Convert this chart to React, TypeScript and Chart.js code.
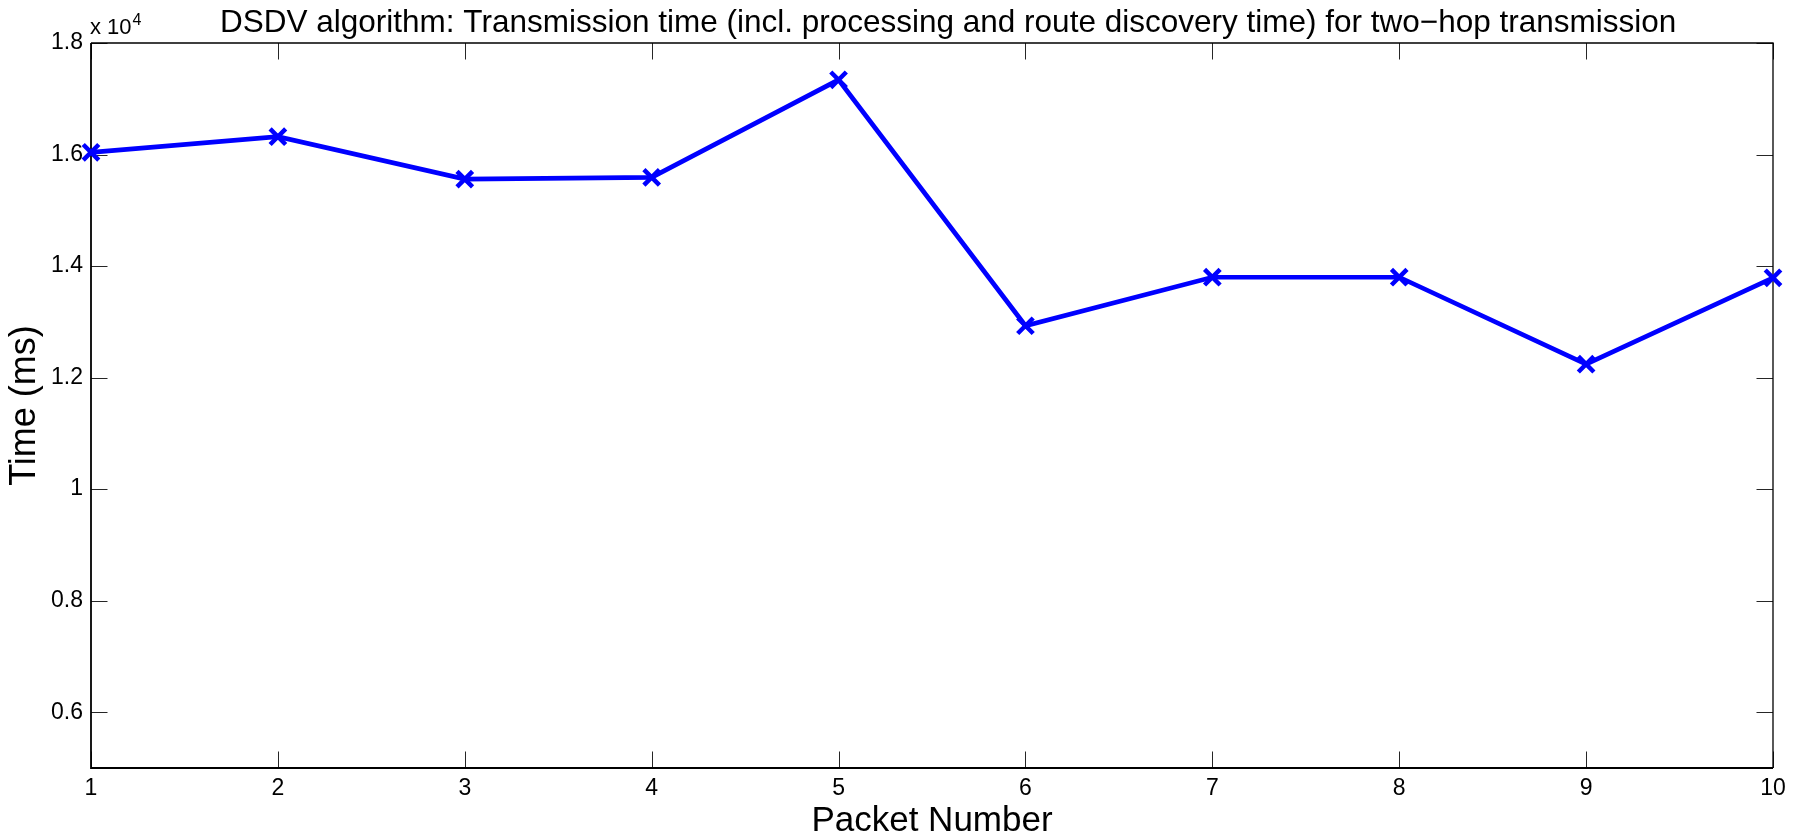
import React, { useEffect, useRef } from "react";
import { Chart, registerables } from "chart.js";

Chart.register(...registerables);

const packetNumbers = [1, 2, 3, 4, 5, 6, 7, 8, 9, 10];
const transmissionTimes = [16040, 16320, 15560, 15590, 17340, 12930, 13800, 13800, 12240, 13790];
const yTickValues = [6000, 8000, 10000, 12000, 14000, 16000, 18000];
const yTickLabels = ["0.6", "0.8", "1", "1.2", "1.4", "1.6", "1.8"];
const xTickValues = packetNumbers;
const titleText =
  "DSDV algorithm: Transmission time (incl. processing and route discovery time) for two\u2212hop transmission";
const xAxisTitle = "Packet Number";
const yAxisTitle = "Time (ms)";
const exponentBase = "x 10";
const exponentPower = "4";

const FONT = '"Liberation Sans", Arial, Helvetica, sans-serif';

const matlabFrame = {
  id: "matlabFrame",
  beforeDatasetsDraw(chart: any) {
    const { ctx, chartArea: a, scales } = chart;
    const xs = scales.x;
    const ys = scales.y;
    const L = 16.5;
    ctx.save();
    ctx.strokeStyle = "#262626";
    ctx.lineWidth = 1;
    ctx.beginPath();
    xs.ticks.forEach((t: any) => {
      const px = Math.round(xs.getPixelForValue(t.value)) + 0.5;
      ctx.moveTo(px, a.bottom);
      ctx.lineTo(px, a.bottom - L);
      ctx.moveTo(px, a.top);
      ctx.lineTo(px, a.top + L);
    });
    ys.ticks.forEach((t: any) => {
      const py = Math.round(ys.getPixelForValue(t.value)) + 0.5;
      ctx.moveTo(a.left, py);
      ctx.lineTo(a.left + L, py);
      ctx.moveTo(a.right, py);
      ctx.lineTo(a.right - L, py);
    });
    ctx.stroke();
    ctx.strokeStyle = "#000";
    ctx.lineWidth = 1.3;
    ctx.beginPath();
    ctx.moveTo(a.left, a.top);
    ctx.lineTo(a.right, a.top);
    ctx.lineTo(a.right, a.bottom);
    ctx.stroke();
    ctx.lineWidth = 1.8;
    ctx.beginPath();
    ctx.moveTo(a.left, a.top);
    ctx.lineTo(a.left, a.bottom);
    ctx.lineTo(a.right, a.bottom);
    ctx.stroke();
    ctx.restore();
  },
  afterDraw(chart: any) {
    const { ctx, chartArea: a } = chart;
    ctx.save();
    ctx.fillStyle = "#000";
    ctx.textBaseline = "alphabetic";
    ctx.textAlign = "left";
    ctx.font = `31.5px ${FONT}`;
    ctx.fillText(titleText, a.left + 129, 32);
    ctx.font = `22px ${FONT}`;
    ctx.fillText(exponentBase, a.left - 1, 34);
    const w = ctx.measureText(exponentBase).width;
    ctx.font = `16px ${FONT}`;
    ctx.fillText(exponentPower, a.left - 1 + w + 1, 25);
    ctx.restore();
  },
};

export default function App() {
  const ref = useRef<HTMLCanvasElement | null>(null);

  useEffect(() => {
    if (!ref.current) return;
    const chart = new Chart(ref.current, {
      type: "line",
      data: {
        datasets: [
          {
            data: packetNumbers.map((x, i) => ({ x, y: transmissionTimes[i] })),
            borderColor: "#0000ff",
            borderWidth: 4.7,
            pointStyle: "crossRot",
            pointRadius: 11,
            pointBorderWidth: 4.5,
            pointBorderColor: "#0000ff",
            pointBackgroundColor: "#0000ff",
            tension: 0,
            clip: false as any,
          },
        ],
      },
      options: {
        animation: false,
        responsive: false,
        devicePixelRatio: 1,
        layout: { padding: { top: 43, right: 27, left: 0, bottom: 0 } },
        plugins: {
          legend: { display: false },
          title: { display: false },
          tooltip: { enabled: false },
        },
        scales: {
          x: {
            type: "linear",
            min: 1,
            max: 10,
            grid: { display: false, drawTicks: false },
            border: { display: false },
            afterBuildTicks: (s: any) => {
              s.ticks = xTickValues.map((v) => ({ value: v }));
            },
            afterFit: (s: any) => {
              s.height = 67;
            },
            ticks: {
              padding: 7,
              color: "#000",
              font: { family: FONT, size: 23 },
              maxRotation: 0,
              callback: (v: any) => String(v),
            },
            title: {
              display: true,
              text: xAxisTitle,
              color: "#000",
              font: { family: FONT, size: 35, lineHeight: 0.8 },
              padding: 0,
            },
          },
          y: {
            type: "linear",
            min: 5000,
            max: 18000,
            grid: { display: false, drawTicks: false },
            border: { display: false },
            afterBuildTicks: (s: any) => {
              s.ticks = yTickValues.map((v) => ({ value: v }));
            },
            afterFit: (s: any) => {
              s.width = 91;
            },
            ticks: {
              padding: 8,
              color: "#000",
              font: { family: FONT, size: 23 },
              callback: (_v: any, i: number) => yTickLabels[i],
            },
            title: {
              display: true,
              text: yAxisTitle,
              color: "#000",
              font: { family: FONT, size: 36, lineHeight: 1.2 },
              padding: { top: 3, bottom: 0 },
            },
          },
        },
      },
      plugins: [matlabFrame],
    });
    return () => chart.destroy();
  }, []);

  return (
    <div style={{ position: "fixed", left: 0, top: 0, width: 1800, height: 835, background: "#fff" }}>
      <canvas ref={ref} width={1800} height={835} style={{ width: 1800, height: 835, display: "block" }} />
    </div>
  );
}
